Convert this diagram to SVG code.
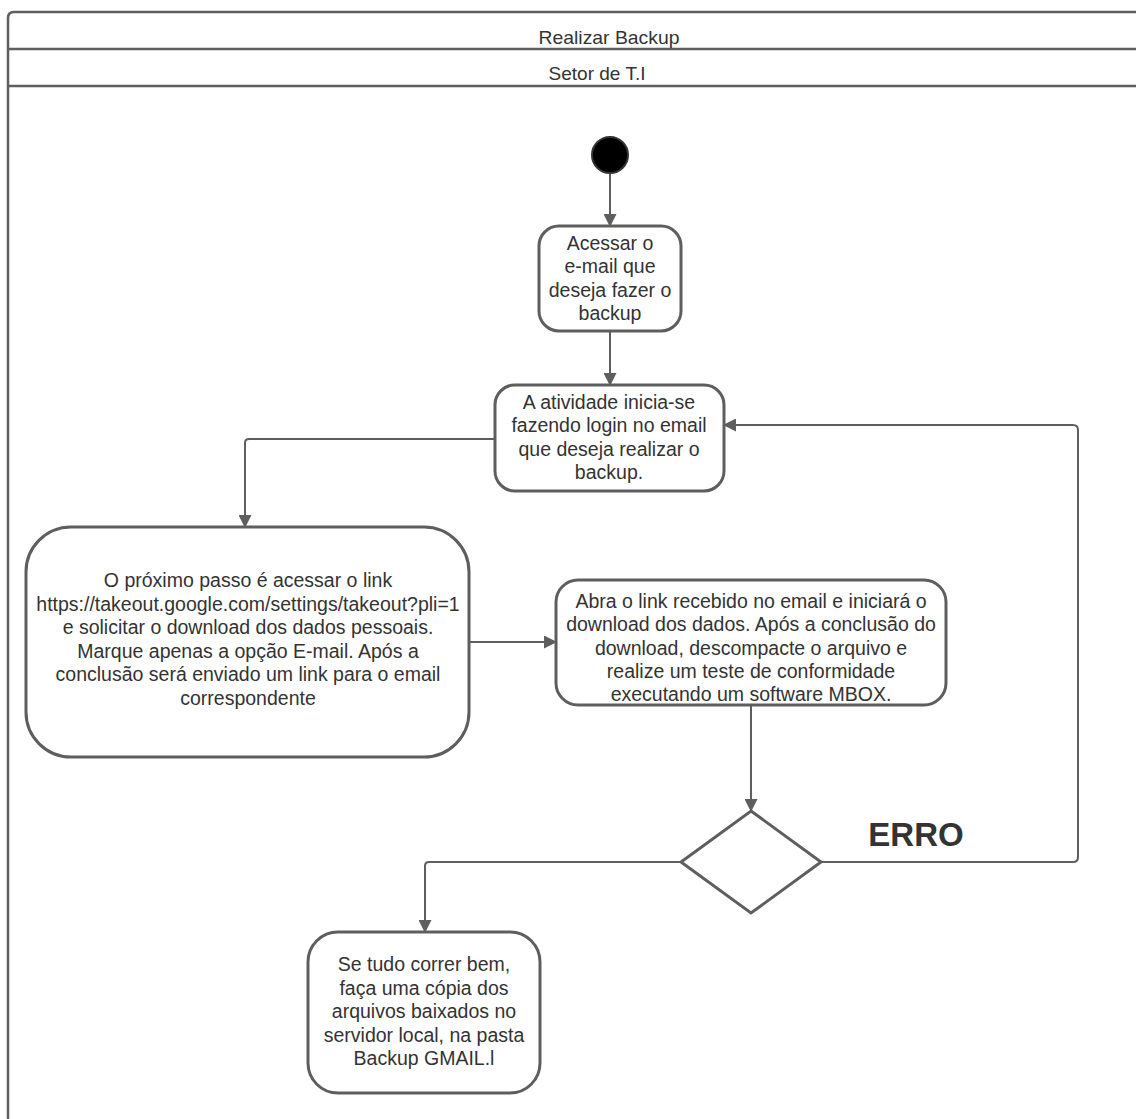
<svg xmlns="http://www.w3.org/2000/svg" width="1136" height="1119" viewBox="0 0 1136 1119">
  <defs>
    <marker id="arrow" viewBox="0 0 13 13" refX="12" refY="6.5" markerWidth="13" markerHeight="13" markerUnits="userSpaceOnUse" orient="auto">
      <path d="M0,0 L13,6.5 L0,13 Z" fill="#5e5e5e"/>
    </marker>
  </defs>
  <style>
    .frame { fill: none; stroke: #5e5e5e; stroke-width: 2.5; }
    .node { fill: #ffffff; stroke: #5e5e5e; stroke-width: 3; }
    .edge { fill: none; stroke: #5e5e5e; stroke-width: 2; marker-end: url(#arrow); }
    .label { font-family: "Liberation Sans", Arial, sans-serif; font-size: 19.5px; fill: #333333; text-anchor: middle; }
    .head { font-family: "Liberation Sans", Arial, sans-serif; font-size: 19px; fill: #333333; text-anchor: middle; }
    .bold { font-family: "Liberation Sans", Arial, sans-serif; font-size: 33px; font-weight: bold; fill: #333333; text-anchor: middle; }
  </style>

  <rect width="1136" height="1119" fill="#ffffff"/>

  <!-- swimlane frame -->
  <g id="pool">
    <path class="frame" d="M8,1130 L8,18 Q8,12 14,12 L1140,12"/>
    <line class="frame" x1="8" y1="49" x2="1140" y2="49"/>
    <line class="frame" x1="8" y1="86" x2="1140" y2="86"/>
    <text class="head" x="609" y="44" textLength="141" lengthAdjust="spacingAndGlyphs">Realizar Backup</text>
    <text class="head" x="597" y="80" textLength="97" lengthAdjust="spacingAndGlyphs">Setor de T.I</text>
  </g>

  <!-- connectors -->
  <g id="connectors">
    <line class="edge" x1="610" y1="173" x2="610" y2="226"/>
    <line class="edge" x1="610" y1="331" x2="610" y2="385"/>
    <path class="edge" d="M495,439 L249,439 Q245,439 245,443 L245,527"/>
    <line class="edge" x1="469" y1="642" x2="556" y2="642"/>
    <line class="edge" x1="751" y1="705" x2="751" y2="811"/>
    <path class="edge" d="M821,862 L1073,862 Q1078,862 1078,857 L1078,430 Q1078,425 1073,425 L724,425"/>
    <path class="edge" d="M681,862 L429,862 Q425,862 425,866 L425,932"/>
  </g>

  <!-- start -->
  <g id="start">
    <circle cx="610" cy="155" r="18" fill="#000000" stroke="#333333" stroke-width="2"/>
  </g>

  <g id="acessar-email">
    <rect class="node" x="539" y="226" width="142" height="105" rx="20"/>
    <text class="label" x="610" y="250">Acessar o</text>
    <text class="label" x="610" y="273">e-mail que</text>
    <text class="label" x="610" y="297">deseja fazer o</text>
    <text class="label" x="610" y="320">backup</text>
  </g>

  <g id="login">
    <rect class="node" x="495" y="385" width="229" height="106" rx="20"/>
    <text class="label" x="609" y="409">A atividade inicia-se</text>
    <text class="label" x="609" y="432">fazendo login no email</text>
    <text class="label" x="609" y="456">que deseja realizar o</text>
    <text class="label" x="609" y="479">backup.</text>
  </g>

  <g id="takeout">
    <rect class="node" x="26" y="527" width="443" height="230" rx="45"/>
    <text class="label" x="248" y="587">O próximo passo é acessar o link</text>
    <text class="label" x="248" y="611">https://takeout.google.com/settings/takeout?pli=1</text>
    <text class="label" x="248" y="634">e solicitar o download dos dados pessoais.</text>
    <text class="label" x="248" y="658">Marque apenas a opção E-mail. Após a</text>
    <text class="label" x="248" y="681">conclusão será enviado um link para o email</text>
    <text class="label" x="248" y="705">correspondente</text>
  </g>

  <g id="download">
    <rect class="node" x="556" y="580" width="390" height="125" rx="22"/>
    <text class="label" x="751" y="608">Abra o link recebido no email e iniciará o</text>
    <text class="label" x="751" y="631">download dos dados. Após a conclusão do</text>
    <text class="label" x="751" y="655">download, descompacte o arquivo e</text>
    <text class="label" x="751" y="678">realize um teste de conformidade</text>
    <text class="label" x="751" y="701">executando um software MBOX.</text>
  </g>

  <g id="decision">
    <path class="node" d="M751,811 L821,862 L751,913 L681,862 Z"/>
    <text class="bold" x="916" y="846">ERRO</text>
  </g>

  <g id="copia">
    <rect class="node" x="308" y="932" width="232" height="161" rx="30"/>
    <text class="label" x="424" y="971">Se tudo correr bem,</text>
    <text class="label" x="424" y="995">faça uma cópia dos</text>
    <text class="label" x="424" y="1018">arquivos baixados no</text>
    <text class="label" x="424" y="1042">servidor local, na pasta</text>
    <text class="label" x="424" y="1065">Backup GMAIL.l</text>
  </g>
</svg>
